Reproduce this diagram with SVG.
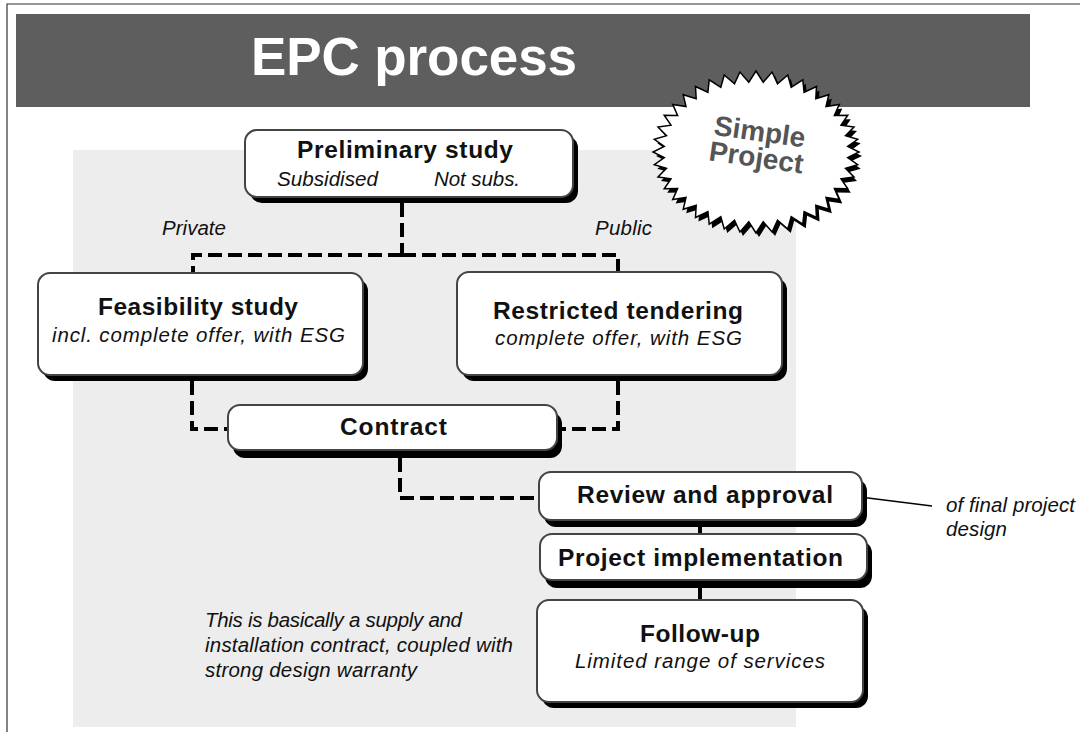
<svg xmlns="http://www.w3.org/2000/svg" width="1080" height="732" viewBox="0 0 1080 732">
<style>
.bold{font-family:"Liberation Sans",Arial,sans-serif;font-weight:bold;fill:#111;font-size:24.5px;}
.ital{font-family:"Liberation Sans",Arial,sans-serif;font-style:italic;fill:#111;font-size:20.5px;}
.box{fill:#fff;stroke:#444;stroke-width:2;}
.shadow{fill:#000;}
.dash{fill:none;stroke:#000;stroke-width:4;stroke-dasharray:14 6;}
.solid{fill:none;stroke:#000;stroke-width:4;}
.thin{fill:none;stroke:#000;stroke-width:1.5;}
</style>
<defs>
<polygon id="star" points="103,0 91.7,5.5 101.7,12.7 89.5,16.3 98,25 85,26.8 91.8,36.8 78.4,36.6 83.3,47.6 70,45.5 72.8,57.3 59.8,53.2 60.5,65.5 48.1,59.7 46.8,72.2 35.2,64.7 31.8,77 21.5,68.1 16.1,80 7.2,69.8 0,81 -7.2,69.8 -16.1,80 -21.5,68.1 -31.8,77 -35.2,64.7 -46.8,72.2 -48.1,59.7 -60.5,65.5 -59.8,53.2 -72.8,57.3 -70,45.5 -83.3,47.6 -78.4,36.6 -91.8,36.8 -85,26.8 -98,25 -89.5,16.3 -101.7,12.7 -91.7,5.5 -103,0 -91.7,-5.5 -101.7,-12.7 -89.5,-16.3 -98,-25 -85,-26.8 -91.8,-36.8 -78.4,-36.6 -83.3,-47.6 -70,-45.5 -72.8,-57.3 -59.8,-53.2 -60.5,-65.5 -48.1,-59.7 -46.8,-72.2 -35.2,-64.7 -31.8,-77 -21.5,-68.1 -16.1,-80 -7.2,-69.8 0,-81 7.2,-69.8 16.1,-80 21.5,-68.1 31.8,-77 35.2,-64.7 46.8,-72.2 48.1,-59.7 60.5,-65.5 59.8,-53.2 72.8,-57.3 70,-45.5 83.3,-47.6 78.4,-36.6 91.8,-36.8 85,-26.8 98,-25 89.5,-16.3 101.7,-12.7 91.7,-5.5"/>
</defs>
<rect x="0" y="0" width="1080" height="732" fill="#fff"/>
<path d="M7,732 V4 H1080" fill="none" stroke="#333" stroke-width="1.2"/>
<g id="title">
<rect x="16" y="14" width="1014" height="93" fill="#5e5e5e"/>
<text x="251" y="75" font-family="'Liberation Sans',Arial,sans-serif" font-weight="bold" font-size="53" fill="#fff" textLength="326" lengthAdjust="spacing">EPC process</text>
</g>
<rect id="panel" x="73" y="150" width="723" height="577" fill="#ededed"/>
<g id="connectors">
<path class="dash" d="M402,203 V255"/>
<path class="dash" d="M402,255 H193 V272"/>
<path class="dash" d="M402,255 H618 V272"/>
<path class="dash" d="M192,381 V429 H228"/>
<path class="dash" d="M618,381 V429 H562"/>
<path class="dash" d="M400,458 V498 H539"/>
<path class="solid" d="M700,526 V534"/>
<path class="solid" d="M700,587 V600"/>
<path class="thin" d="M852,496 L932,506"/>
</g>
<g id="starburst">
<use href="#star" transform="translate(759,156)" fill="#000"/>
<use href="#star" transform="translate(756,152)" fill="#fff" stroke="#000" stroke-width="1.5"/>
<g transform="rotate(8,757,152)">
<text x="757" y="141" text-anchor="middle" font-family="'Liberation Sans',Arial,sans-serif" font-weight="bold" font-size="28" fill="#555">Simple</text>
<text x="757" y="167" text-anchor="middle" font-family="'Liberation Sans',Arial,sans-serif" font-weight="bold" font-size="28" fill="#555">Project</text>
</g>
</g>
<g id="preliminary">
<rect class="shadow" x="250" y="136" width="328" height="67" rx="12"/>
<rect class="box" x="245" y="130" width="328" height="67" rx="12"/>
<text class="bold" x="297" y="158" textLength="216" lengthAdjust="spacing">Preliminary study</text>
<text class="ital" x="277" y="186" textLength="101" lengthAdjust="spacingAndGlyphs">Subsidised</text>
<text class="ital" x="434" y="186" textLength="86" lengthAdjust="spacing">Not subs.</text>
</g>
<text class="ital" x="162" y="235" textLength="64" lengthAdjust="spacing">Private</text>
<text class="ital" x="595" y="235" textLength="57" lengthAdjust="spacing">Public</text>
<g id="feasibility">
<rect class="shadow" x="43" y="279" width="325" height="102" rx="12"/>
<rect class="box" x="38" y="273" width="325" height="102" rx="12"/>
<text class="bold" x="98" y="315" textLength="200" lengthAdjust="spacing">Feasibility study</text>
<text class="ital" x="52" y="342" textLength="293" lengthAdjust="spacing">incl. complete offer, with ESG</text>
</g>
<g id="restricted">
<rect class="shadow" x="462" y="278" width="325" height="103" rx="12"/>
<rect class="box" x="457" y="272" width="325" height="103" rx="12"/>
<text class="bold" x="493" y="319" textLength="250" lengthAdjust="spacing">Restricted tendering</text>
<text class="ital" x="495" y="345" textLength="247" lengthAdjust="spacing">complete offer, with ESG</text>
</g>
<g id="contract">
<rect class="shadow" x="233" y="412" width="329" height="46" rx="12"/>
<rect class="box" x="228" y="405" width="329" height="45" rx="12"/>
<text class="bold" x="340" y="435" textLength="107" lengthAdjust="spacing">Contract</text>
</g>
<g id="review">
<rect class="shadow" x="544" y="479" width="323" height="48" rx="12"/>
<rect class="box" x="539" y="472" width="323" height="48" rx="12"/>
<text class="bold" x="577" y="503" textLength="256" lengthAdjust="spacing">Review and approval</text>
</g>
<text class="ital" x="946" y="512" textLength="129" lengthAdjust="spacing">of final project</text>
<text class="ital" x="946" y="536" textLength="61" lengthAdjust="spacing">design</text>
<g id="implementation">
<rect class="shadow" x="545" y="541" width="327" height="47" rx="12"/>
<rect class="box" x="540" y="534" width="327" height="46" rx="12"/>
<text class="bold" x="558" y="566" textLength="285" lengthAdjust="spacing">Project implementation</text>
</g>
<g id="followup">
<rect class="shadow" x="542" y="606" width="326" height="102" rx="12"/>
<rect class="box" x="537" y="600" width="326" height="102" rx="12"/>
<text class="bold" x="640" y="642" textLength="120" lengthAdjust="spacing">Follow-up</text>
<text class="ital" x="575" y="668" textLength="250" lengthAdjust="spacing">Limited range of services</text>
</g>
<g id="note">
<text class="ital" x="205" y="627" textLength="257" lengthAdjust="spacing">This is basically a supply and</text>
<text class="ital" x="205" y="652" textLength="308" lengthAdjust="spacing">installation contract, coupled with</text>
<text class="ital" x="205" y="677" textLength="212" lengthAdjust="spacing">strong design warranty</text>
</g>
</svg>
